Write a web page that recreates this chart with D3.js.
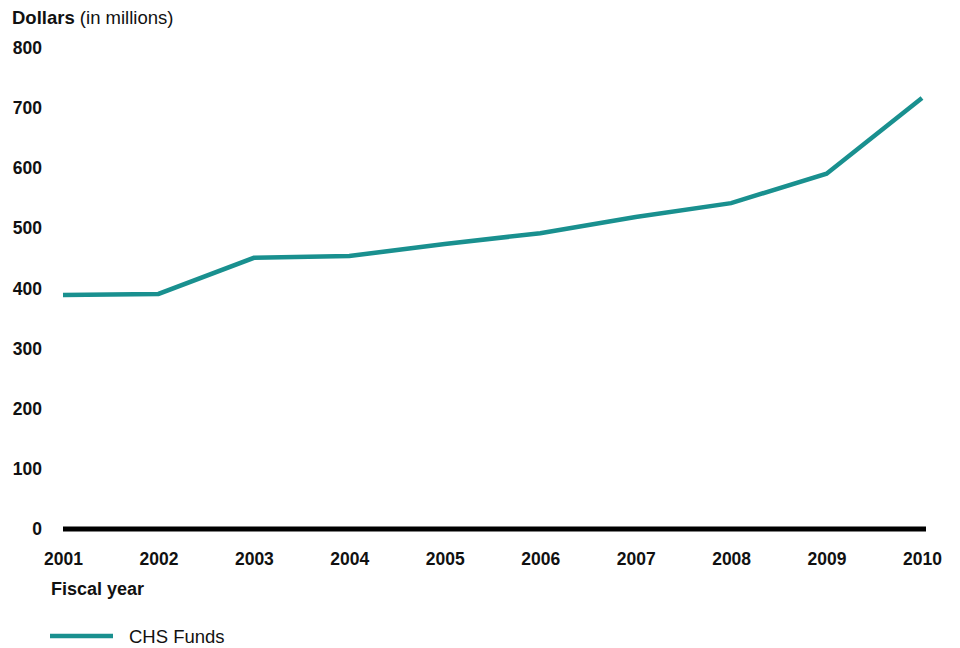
<!DOCTYPE html>
<html><head><meta charset="utf-8">
<script src="https://cdn.jsdelivr.net/npm/d3@7"></script>
<style>body{margin:0;background:#fff;}svg{display:block;font-family:"Liberation Sans",Arial,sans-serif;}</style>
</head><body>
<svg id="c" width="960" height="648"></svg>
<script>
const years = ["2001","2002","2003","2004","2005","2006","2007","2008","2009","2010"];
const chsFunds = [389, 391, 451, 454, 474, 492, 519, 542, 591, 717];
const yTicks = [0,100,200,300,400,500,600,700,800];

const svg = d3.select("#c");
const x = d3.scalePoint().domain(years).range([63, 922]);
const y = d3.scaleLinear().domain([0, 800]).range([529, 48]);

// y tick labels
const ya = svg.append("g").attr("transform","translate(42,0)")
  .call(d3.axisLeft(y).tickValues(yTicks).tickSize(0).tickPadding(0));
ya.select(".domain").remove();
ya.selectAll("text").attr("font-size",17.5).attr("font-weight","bold").attr("fill","#111")
  .attr("font-family","Liberation Sans, Arial, sans-serif");

// x axis labels
const xa = svg.append("g").attr("transform","translate(0,553)")
  .call(d3.axisBottom(x).tickSize(0).tickPadding(0));
xa.select(".domain").remove();
xa.selectAll("text").attr("font-size",17.5).attr("font-weight","bold").attr("fill","#111")
  .attr("font-family","Liberation Sans, Arial, sans-serif");

// baseline
svg.append("line").attr("x1",63).attr("x2",926).attr("y1",y(0)).attr("y2",y(0))
  .attr("stroke","#000").attr("stroke-width",5);

// line
svg.append("path").datum(chsFunds)
  .attr("d", d3.line().x((d,i)=>x(years[i])).y(d=>y(d)))
  .attr("fill","none").attr("stroke","#19908f").attr("stroke-width",4.5);

// title
const t = svg.append("text").attr("x",12).attr("y",24).attr("font-size",18.5).attr("fill","#111");
t.append("tspan").attr("font-weight","bold").text("Dollars");
t.append("tspan").text(" (in millions)");

svg.append("text").attr("x",51).attr("y",595).attr("font-size",18).attr("font-weight","bold")
  .attr("fill","#111").text("Fiscal year");

// legend
svg.append("line").attr("x1",50).attr("x2",113).attr("y1",636).attr("y2",636)
  .attr("stroke","#19908f").attr("stroke-width",4.5);
svg.append("text").attr("x",129).attr("y",643).attr("font-size",18.5).attr("fill","#111").text("CHS Funds");
</script>
</body></html>
